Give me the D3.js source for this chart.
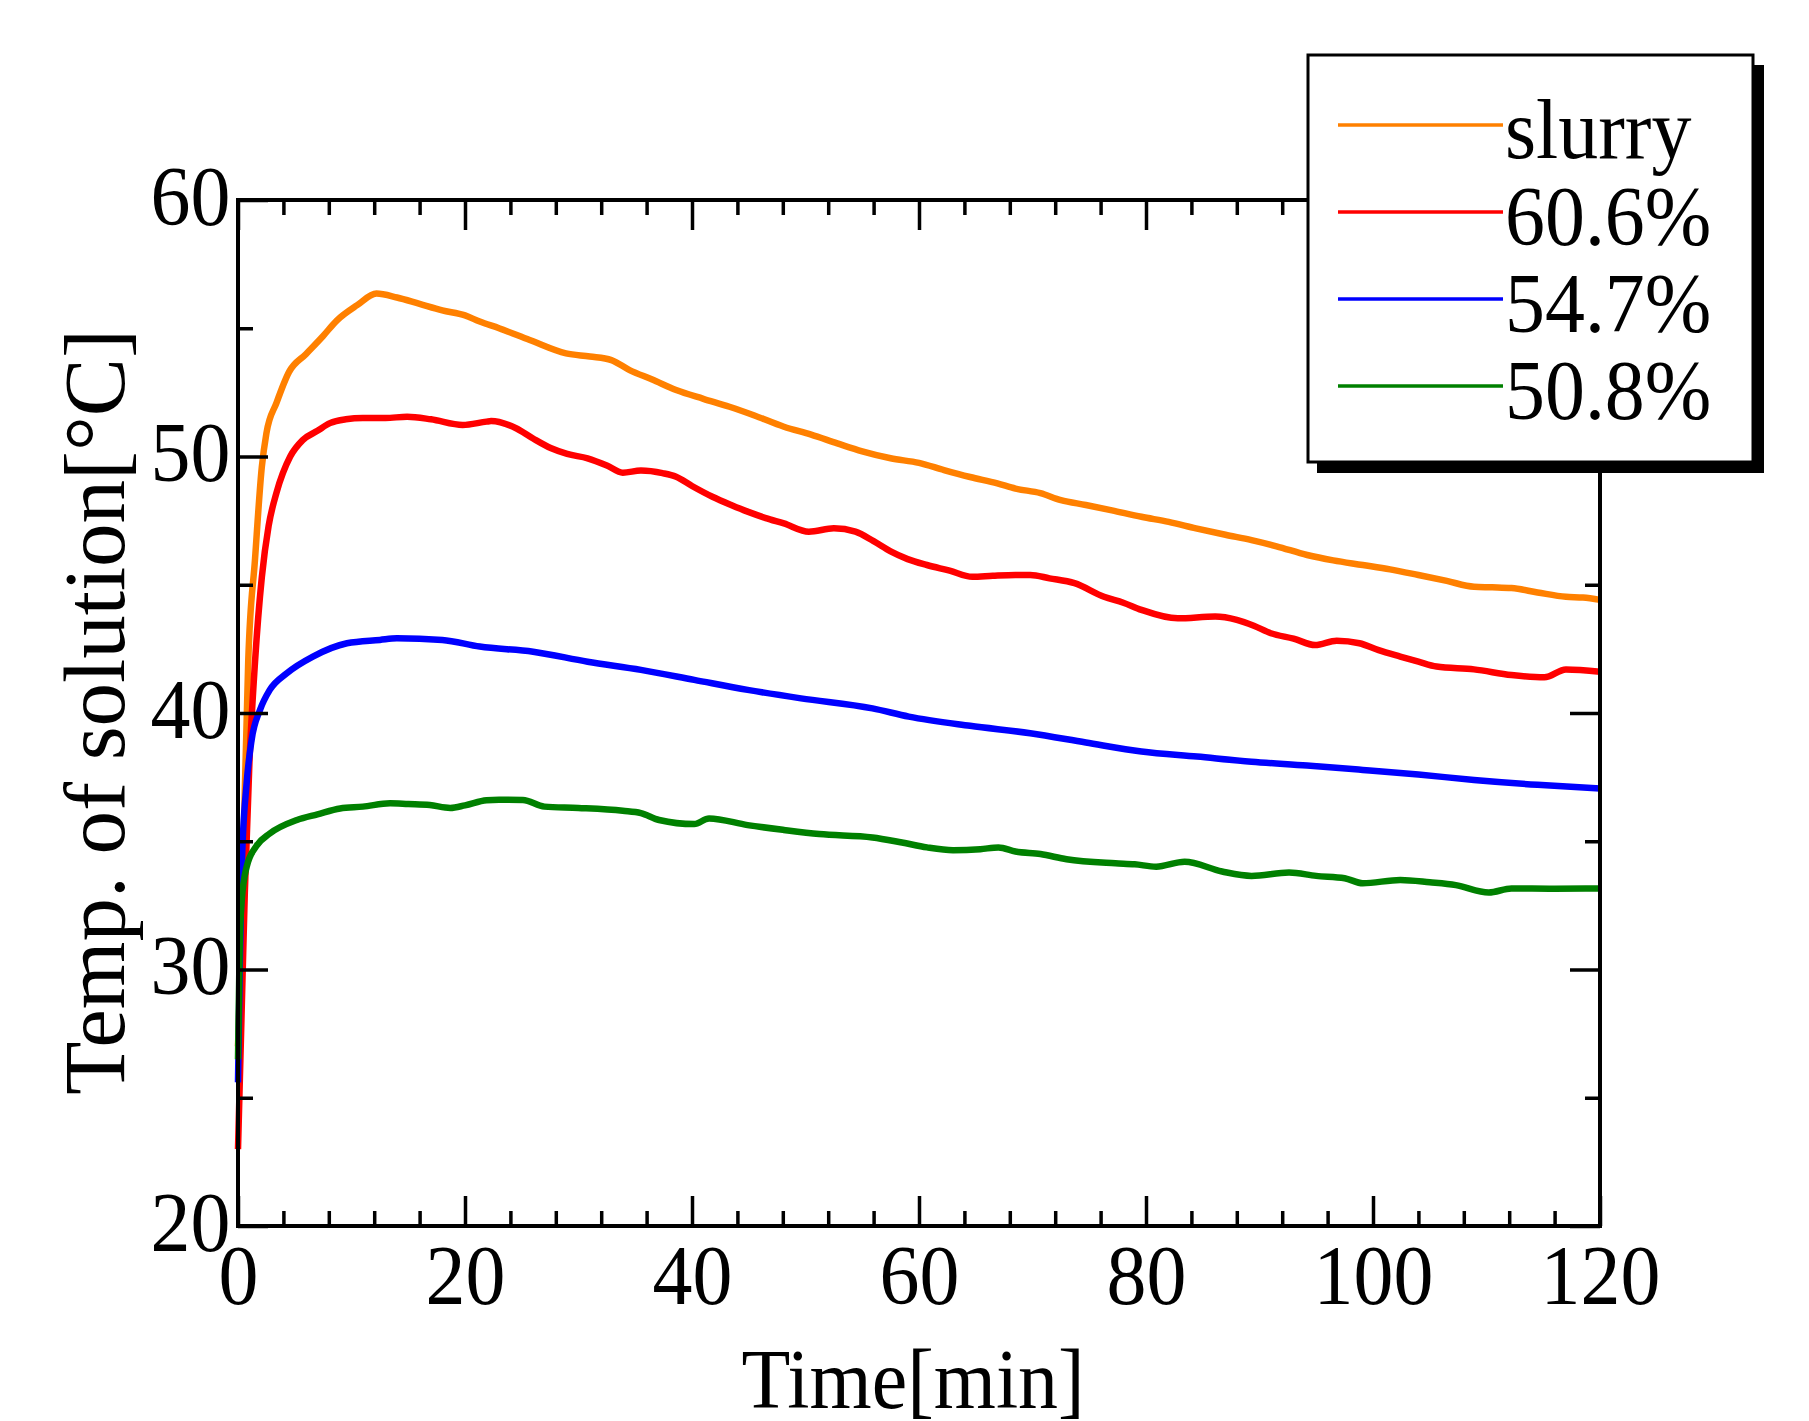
<!DOCTYPE html>
<html>
  <head>
    <meta charset="utf-8">
    <title>Temp. of solution</title>
    <script src="https://cdnjs.cloudflare.com/ajax/libs/d3/7.8.5/d3.min.js"></script>
    <style>
      body { margin: 0; background: #fff; }
      text { font-family: "Liberation Serif", "Times New Roman", serif; fill: #000; }
    </style>
  </head>
  <body>
    <div id="chart"></div>
    <script type="text/javascript">
      // series: time [min] and temperature [°C]
      var slurryT = [0, 0.3, 0.6, 0.9, 1.5, 2.1, 2.5, 3.4, 4.5, 6, 7.5, 8.7, 10.5, 12.2, 14, 16, 18, 20, 21.3, 23, 25.7, 28.9, 31, 32.9, 34.5, 36.5, 38.6, 41, 43.3, 45.5, 48.1, 50.5, 52.8, 55, 57.5, 60, 62.2, 64.5, 66.9, 68.5, 70.7, 72.5, 74.7, 77, 79.6, 82, 84.4, 87, 89.3, 91.5, 94.2, 96.5, 99.1, 101.5, 104, 106.5, 108.9, 110.5, 112.2, 114.5, 117, 118.5, 120];
      var slurryV = [27, 31, 37, 42, 46, 49.6, 50.9, 52.1, 53.3, 54.0, 54.7, 55.3, 55.9, 56.35, 56.2, 55.95, 55.7, 55.5, 55.26, 55.0, 54.54, 54.02, 53.9, 53.76, 53.37, 53.0, 52.59, 52.25, 51.94, 51.6, 51.16, 50.85, 50.51, 50.2, 49.93, 49.75, 49.47, 49.2, 48.95, 48.75, 48.57, 48.3, 48.11, 47.9, 47.65, 47.45, 47.2, 46.95, 46.74, 46.5, 46.16, 45.95, 45.77, 45.6, 45.38, 45.15, 44.92, 44.9, 44.87, 44.7, 44.53, 44.5, 44.41];

      var p606T = [0, 0.3, 0.6, 1.0, 1.5, 2.1, 2.7, 3.4, 4.6, 5.7, 7, 8.1, 9.5, 11, 13, 14.9, 17, 19.8, 21.9, 22.3, 24.5, 26, 27.6, 29, 30.8, 32.5, 33.9, 35.5, 37.4, 38.6, 40, 41.8, 43.5, 44.9, 46.5, 48.1, 50.3, 52.5, 54.4, 56, 57.5, 59, 60.7, 62.7, 64.7, 66.5, 68.5, 69.8, 71.5, 73.7, 76.3, 78, 79.6, 82.8, 86.1, 88, 89.5, 91, 93, 94.9, 96.8, 98.8, 100.5, 102.4, 104, 105.6, 108.9, 112.2, 115.1, 117, 120];
      var p606V = [23, 28, 33, 38, 42, 45.3, 47.3, 48.6, 50.0, 50.64, 51.0, 51.3, 51.45, 51.5, 51.5, 51.55, 51.45, 51.23, 51.36, 51.38, 51.1, 50.7, 50.32, 50.1, 49.93, 49.65, 49.37, 49.45, 49.35, 49.21, 48.85, 48.43, 48.1, 47.85, 47.6, 47.39, 47.07, 47.2, 47.07, 46.7, 46.3, 46.0, 45.77, 45.55, 45.31, 45.35, 45.38, 45.38, 45.25, 45.06, 44.53, 44.3, 44.02, 43.69, 43.76, 43.63, 43.4, 43.11, 42.9, 42.65, 42.82, 42.72, 42.45, 42.2, 42.0, 41.81, 41.7, 41.48, 41.39, 41.7, 41.61];

      var p547T = [0, 0.15, 0.33, 0.76, 1.2, 1.94, 2.8, 4.3, 6.6, 9.6, 12.5, 14, 18, 21.3, 26, 30.8, 35.5, 40.2, 44.9, 49.6, 55.9, 59.1, 64.5, 69.8, 74.7, 79.6, 84.5, 89.3, 94.2, 99.1, 104, 108.9, 114.5, 120];
      var p547V = [25.6, 30, 34.0, 37.26, 38.95, 40.12, 40.9, 41.55, 42.2, 42.72, 42.85, 42.91, 42.85, 42.59, 42.39, 42.0, 41.68, 41.29, 40.9, 40.57, 40.18, 39.86, 39.5, 39.21, 38.85, 38.5, 38.3, 38.1, 37.95, 37.78, 37.6, 37.39, 37.2, 37.06];

      var p508T = [0, 0.15, 0.33, 0.76, 1.6, 2.8, 5.2, 7, 9, 11, 13.4, 15, 16.9, 18.7, 20, 21.9, 23, 25.1, 27, 30, 33.9, 35.5, 37.1, 40.2, 41.5, 44.9, 48.1, 51.2, 55.9, 58.5, 60.7, 63, 65.4, 67, 68.5, 70.7, 73, 77.3, 79, 80.9, 83.4, 86.7, 89.3, 92.6, 95, 97.5, 99.1, 102.4, 105, 107.3, 110.2, 112.2, 116, 120];
      var p508V = [26.5, 31, 32.7, 34.0, 34.8, 35.3, 35.83, 36.05, 36.28, 36.35, 36.48, 36.45, 36.41, 36.3, 36.4, 36.6, 36.62, 36.61, 36.35, 36.3, 36.19, 36.1, 35.83, 35.67, 35.89, 35.63, 35.44, 35.28, 35.15, 34.95, 34.76, 34.65, 34.69, 34.76, 34.6, 34.5, 34.3, 34.14, 34.1, 34.01, 34.2, 33.82, 33.65, 33.78, 33.65, 33.56, 33.36, 33.49, 33.4, 33.29, 33.0, 33.16, 33.15, 33.16];

      var seriesNames = ["slurry", "60.6%", "54.7%", "50.8%"];
      var seriesColors = ["#ff8000", "#ff0000", "#0000ff", "#008000"];

      var xMajor = [0, 20, 40, 60, 80, 100, 120];
      var xMinor = [4, 8, 12, 16, 24, 28, 32, 36, 44, 48, 52, 56, 64, 68, 72, 76, 84, 88, 92, 96, 104, 108, 112, 116];
      var yMajor = [20, 30, 40, 50, 60];
      var yMinor = [25, 35, 45, 55];

      var w = 1809, h = 1421;
      var pLeft = 238, pRight = 1600, pTop = 200, pBottom = 1226;
      var squeeze = "scale(0.94,1)";

      var x = d3.scaleLinear().domain([0, 120]).range([pLeft, pRight]);
      var y = d3.scaleLinear().domain([20, 60]).range([pBottom, pTop]);

      var svg = d3.select("#chart").append("svg")
        .attr("width", w)
        .attr("height", h);

      svg.append("rect").attr("width", w).attr("height", h).attr("fill", "#fff");

      // data lines
      var data = [
        d3.zip(slurryT, slurryV),
        d3.zip(p606T, p606V),
        d3.zip(p547T, p547V),
        d3.zip(p508T, p508V)
      ];
      var line = d3.line()
        .curve(d3.curveMonotoneX)
        .x(function(d) { return x(d[0]); })
        .y(function(d) { return y(d[1]); });

      svg.selectAll("path.series")
        .data(data)
        .enter()
        .append("path")
        .attr("class", "series")
        .attr("d", line)
        .attr("fill", "none")
        .attr("stroke", function(d, i) { return seriesColors[i]; })
        .attr("stroke-width", 6.5)
        .attr("stroke-linejoin", "round");

      // inward ticks on all four sides
      function ticks(axis, pos, vals, size) {
        var g = svg.append("g")
          .attr("transform", pos)
          .call(axis.tickValues(vals).tickSize(size).tickFormat(""));
        g.select(".domain").remove();
        g.selectAll("line").attr("stroke", "#000").attr("stroke-width", 3.5);
      }
      ticks(d3.axisBottom(x), "translate(0," + pBottom + ")", xMajor, -30);
      ticks(d3.axisBottom(x), "translate(0," + pBottom + ")", xMinor, -15);
      ticks(d3.axisTop(x), "translate(0," + pTop + ")", xMajor, -30);
      ticks(d3.axisTop(x), "translate(0," + pTop + ")", xMinor, -15);
      ticks(d3.axisLeft(y), "translate(" + pLeft + ",0)", yMajor, -30);
      ticks(d3.axisLeft(y), "translate(" + pLeft + ",0)", yMinor, -15);
      ticks(d3.axisRight(y), "translate(" + pRight + ",0)", yMajor, -30);
      ticks(d3.axisRight(y), "translate(" + pRight + ",0)", yMinor, -15);

      svg.append("rect")
        .attr("x", pLeft).attr("y", pTop)
        .attr("width", pRight - pLeft).attr("height", pBottom - pTop)
        .attr("fill", "none")
        .attr("stroke", "#000")
        .attr("stroke-width", 4);

      // tick labels
      var xLab = svg.append("g")
        .attr("transform", "translate(0," + pBottom + ")")
        .call(d3.axisBottom(x).tickValues(xMajor).tickSize(0).tickFormat(d3.format("d")));
      xLab.select(".domain").remove();
      xLab.selectAll("text")
        .attr("y", 78).attr("dy", 0)
        .attr("font-size", 85)
        .attr("transform", squeeze);

      var yLab = svg.append("g")
        .attr("transform", "translate(" + pLeft + ",0)")
        .call(d3.axisLeft(y).tickValues(yMajor).tickSize(0).tickFormat(d3.format("d")));
      yLab.select(".domain").remove();
      yLab.selectAll("text")
        .attr("x", -8).attr("dy", 24)
        .attr("font-size", 85)
        .attr("transform", squeeze);

      // axis titles
      svg.append("text")
        .attr("transform", "translate(" + ((pLeft + pRight) / 2 - 6) + ",1408) " + squeeze)
        .attr("text-anchor", "middle")
        .attr("font-size", 85)
        .text("Time[min]");

      svg.append("text")
        .attr("transform", "translate(124," + ((pTop + pBottom) / 2 - 1) + ") rotate(-90)")
        .attr("text-anchor", "middle")
        .attr("font-size", 87)
        .text("Temp. of solution[\u00b0C]");

      // legend with drop shadow
      var lg = svg.append("g");
      lg.append("rect")
        .attr("x", 1317).attr("y", 65).attr("width", 447).attr("height", 408)
        .attr("fill", "#000");
      lg.append("rect")
        .attr("x", 1308).attr("y", 55).attr("width", 445).attr("height", 407)
        .attr("fill", "#fff")
        .attr("stroke", "#000")
        .attr("stroke-width", 3);

      var item = lg.selectAll("g.item")
        .data(seriesNames)
        .enter()
        .append("g")
        .attr("class", "item")
        .attr("transform", function(d, i) { return "translate(0," + (125 + i * 87) + ")"; });
      item.append("line")
        .attr("x1", 1338).attr("x2", 1503)
        .attr("stroke", function(d, i) { return seriesColors[i]; })
        .attr("stroke-width", 3.5);
      item.append("text")
        .attr("transform", "translate(1505,33) " + squeeze)
        .attr("font-size", 85)
        .text(function(d) { return d; });
    </script>
  </body>
</html>
